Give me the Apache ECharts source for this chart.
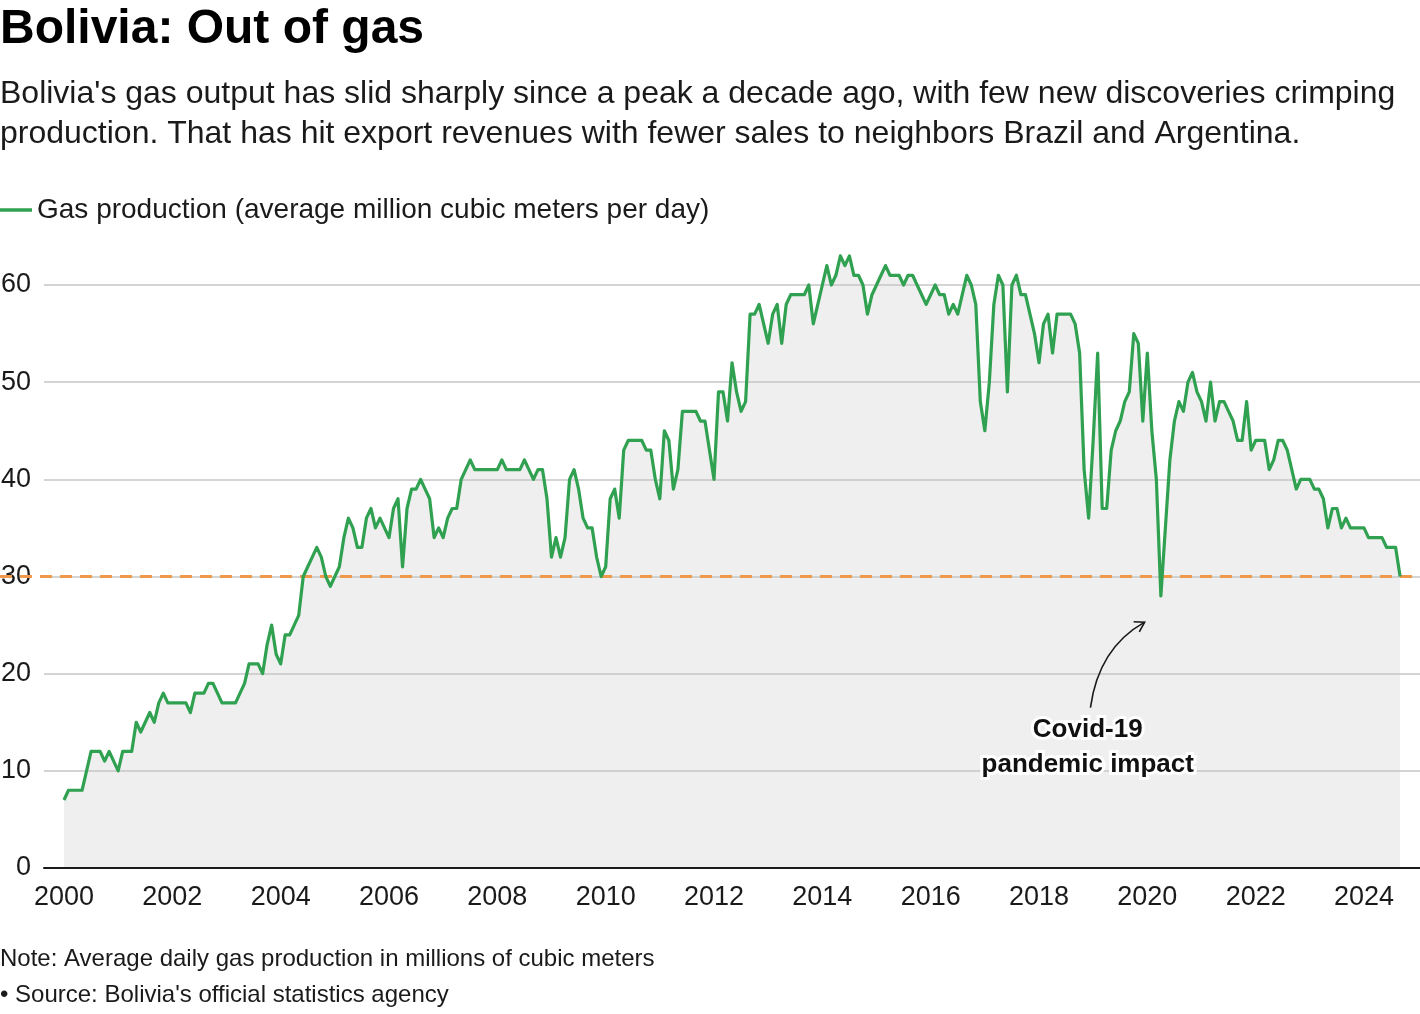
<!DOCTYPE html>
<html>
<head>
<meta charset="utf-8">
<script src="https://cdn.jsdelivr.net/npm/echarts@6/dist/echarts.min.js"></script>
<style>
html,body{margin:0;padding:0;background:#fff;}
#c{width:1420px;height:1014px;}
</style>
</head>
<body>
<div id="c"></div>
<script>
// Monthly average gas production (million m3/day), Jan of each year onward
const y2000 = [7,8,8,8,8,10,12,12,12,11,12,11];
const y2001 = [10,12,12,12,15,14,15,16,15,17,18,17];
const y2002 = [17,17,17,17,16,18,18,18,19,19,18,17];
const y2003 = [17,17,17,18,19,21,21,21,20,23,25,22];
const y2004 = [21,24,24,25,26,30,31,32,33,32,30,29];
const y2005 = [30,31,34,36,35,33,33,36,37,35,36,35];
const y2006 = [34,37,38,31,37,39,39,40,39,38,34,35];
const y2007 = [34,36,37,37,40,41,42,41,41,41,41,41];
const y2008 = [41,42,41,41,41,41,42,41,40,41,41,38];
const y2009 = [32,34,32,34,40,41,39,36,35,35,32,30];
const y2010 = [31,38,39,36,43,44,44,44,44,43,43,40];
const y2011 = [38,45,44,39,41,47,47,47,47,46,46,43];
const y2012 = [40,49,49,46,52,49,47,48,57,57,58,56];
const y2013 = [54,57,58,54,58,59,59,59,59,60,56,58];
const y2014 = [60,62,60,61,63,62,63,61,61,60,57,59];
const y2015 = [60,61,62,61,61,61,60,61,61,60,59,58];
const y2016 = [59,60,59,59,57,58,57,59,61,60,58,48];
const y2017 = [45,50,58,61,60,49,60,61,59,59,57,55];
const y2018 = [52,56,57,53,57,57,57,57,56,53,41,36];
const y2019 = [44,53,37,37,43,45,46,48,49,55,54,46];
const y2020 = [53,45,40,28,35,42,46,48,47,50,51,49];
const y2021 = [48,46,50,46,48,48,47,46,44,44,48,43];
const y2022 = [44,44,44,41,42,44,44,43,41,39,40,40];
const y2023 = [40,39,39,38,35,37,37,35,36,35,35,35];
const y2024 = [35,34,34,34,34,33,33,33,30];

const yearlyValues = [y2000,y2001,y2002,y2003,y2004,y2005,y2006,y2007,y2008,y2009,y2010,y2011,y2012,
  y2013,y2014,y2015,y2016,y2017,y2018,y2019,y2020,y2021,y2022,y2023,y2024];
const firstYear = 2000;
const xTickLabels = [2000,2002,2004,2006,2008,2010,2012,2014,2016,2018,2020,2022,2024];
const yTicks = [0,10,20,30,40,50,60];
const thresholdValue = 30;

const seriesData = [];
yearlyValues.forEach((arr, yi) => {
  arr.forEach((v, mi) => seriesData.push([firstYear + yi + mi / 12, v]));
});

const FONT = '"Liberation Sans", Arial, Helvetica, sans-serif';
const TXT = '#1a1a1a';
const GREEN = '#2fa150';
const ORANGE = '#f0994a';

const chart = echarts.init(document.getElementById('c'), null, {renderer: 'canvas'});

const option = {
  animation: false,
  backgroundColor: '#fff',
  textStyle: {fontFamily: FONT},
  grid: {left: 44, right: 0, top: 285, bottom: 146, containLabel: false, outerBoundsMode: 'none'},
  legend: {
    left: 0, top: 196, padding: 0,
    itemWidth: 32, itemHeight: 3.5, icon: 'rect',
    data: ['Gas production (average million cubic meters per day)'],
    textStyle: {fontSize: 28, color: TXT, fontFamily: FONT}
  },
  xAxis: {
    type: 'value',
    min: 1999.6308, max: 2025.034,
    z: 4,
    axisLine: {show: true, lineStyle: {color: '#1a1a1a', width: 2}},
    axisTick: {show: false},
    splitLine: {show: false},
    axisLabel: {
      customValues: xTickLabels,
      fontSize: 27, color: TXT, fontFamily: FONT, margin: 16,
      formatter: v => String(Math.round(v))
    }
  },
  yAxis: {
    type: 'value',
    min: 0, max: 60, interval: 10,
    z: 3,
    axisLine: {show: false},
    axisTick: {show: false},
    splitLine: {show: true, lineStyle: {color: '#c6c6c6', width: 1.6}},
    axisLabel: {fontSize: 27, color: TXT, fontFamily: FONT, margin: 13}
  },
  series: [
    {
      name: 'area',
      type: 'line',
      data: seriesData,
      showSymbol: false,
      clip: false,
      z: 1,
      lineStyle: {width: 0, opacity: 0},
      areaStyle: {color: '#efefef', opacity: 1},
      silent: true
    },
    {
      name: 'Gas production (average million cubic meters per day)',
      type: 'line',
      data: seriesData,
      showSymbol: false,
      clip: false,
      z: 6,
      color: GREEN,
      lineStyle: {color: GREEN, width: 3.2, join: 'round'}
    }
  ]
};
chart.setOption(option);

// Threshold line & annotation positioned via the axes' own scales
const p30a = chart.convertToPixel({gridIndex: 0}, [2000, thresholdValue]);
const gridRight = chart.convertToPixel({gridIndex: 0}, [2025.034, 0])[0];
const txtPos1 = chart.convertToPixel({gridIndex: 0}, [2018.9, 14.2]);
const txtPos2 = chart.convertToPixel({gridIndex: 0}, [2018.9, 10.6]);
const arrStart = chart.convertToPixel({gridIndex: 0}, [2018.95, 16.5]);
const arrEnd = chart.convertToPixel({gridIndex: 0}, [2019.95, 25.3]);
const ctrl = [arrStart[0] + 8, arrEnd[1] + 26];
const ang = Math.atan2(arrEnd[1] - ctrl[1], arrEnd[0] - ctrl[0]);
const hl = 11;
const h1 = [arrEnd[0] - hl * Math.cos(ang - 0.55), arrEnd[1] - hl * Math.sin(ang - 0.55)];
const h2 = [arrEnd[0] - hl * Math.cos(ang + 0.55), arrEnd[1] - hl * Math.sin(ang + 0.55)];

chart.setOption({
  graphic: [
    {type: 'text', silent: true, position: [0, 6],
     style: {text: 'Bolivia: Out of gas', font: 'bold 48px ' + FONT, fill: '#000'}},
    {type: 'text', silent: true, position: [0, 74],
     style: {text: "Bolivia's gas output has slid sharply since a peak a decade ago, with few new discoveries crimping\nproduction. That has hit export revenues with fewer sales to neighbors Brazil and Argentina.",
       font: '32px ' + FONT, fill: TXT, lineHeight: 40}},
    {type: 'text', silent: true, position: [0, 947],
     style: {text: 'Note: Average daily gas production in millions of cubic meters', font: '24px ' + FONT, fill: TXT}},
    {type: 'text', silent: true, position: [0, 983],
     style: {text: "\u2022 Source: Bolivia's official statistics agency", font: '24px ' + FONT, fill: TXT}},
    {type: 'line', silent: true, z: 5,
     shape: {x1: 0, y1: p30a[1], x2: gridRight, y2: p30a[1]},
     style: {stroke: ORANGE, lineWidth: 3, lineDash: [12, 8]}},
    {type: 'bezierCurve', silent: true, z: 7,
     shape: {x1: arrStart[0], y1: arrStart[1], x2: arrEnd[0], y2: arrEnd[1], cpx1: ctrl[0], cpy1: ctrl[1]},
     style: {stroke: '#1a1a1a', lineWidth: 1.6, fill: null}},
    {type: 'polyline', silent: true, z: 7,
     shape: {points: [h1, arrEnd, h2]},
     style: {stroke: '#1a1a1a', lineWidth: 1.6, fill: null}},
    {type: 'text', silent: true, z: 8, position: txtPos1,
     style: {text: 'Covid-19', font: 'bold 26px ' + FONT, fill: '#111', align: 'center', verticalAlign: 'middle',
       stroke: '#fff', lineWidth: 6}},
    {type: 'text', silent: true, z: 8, position: txtPos2,
     style: {text: 'pandemic impact', font: 'bold 26px ' + FONT, fill: '#111', align: 'center', verticalAlign: 'middle',
       stroke: '#fff', lineWidth: 6}}
  ]
});
</script>
</body>
</html>
